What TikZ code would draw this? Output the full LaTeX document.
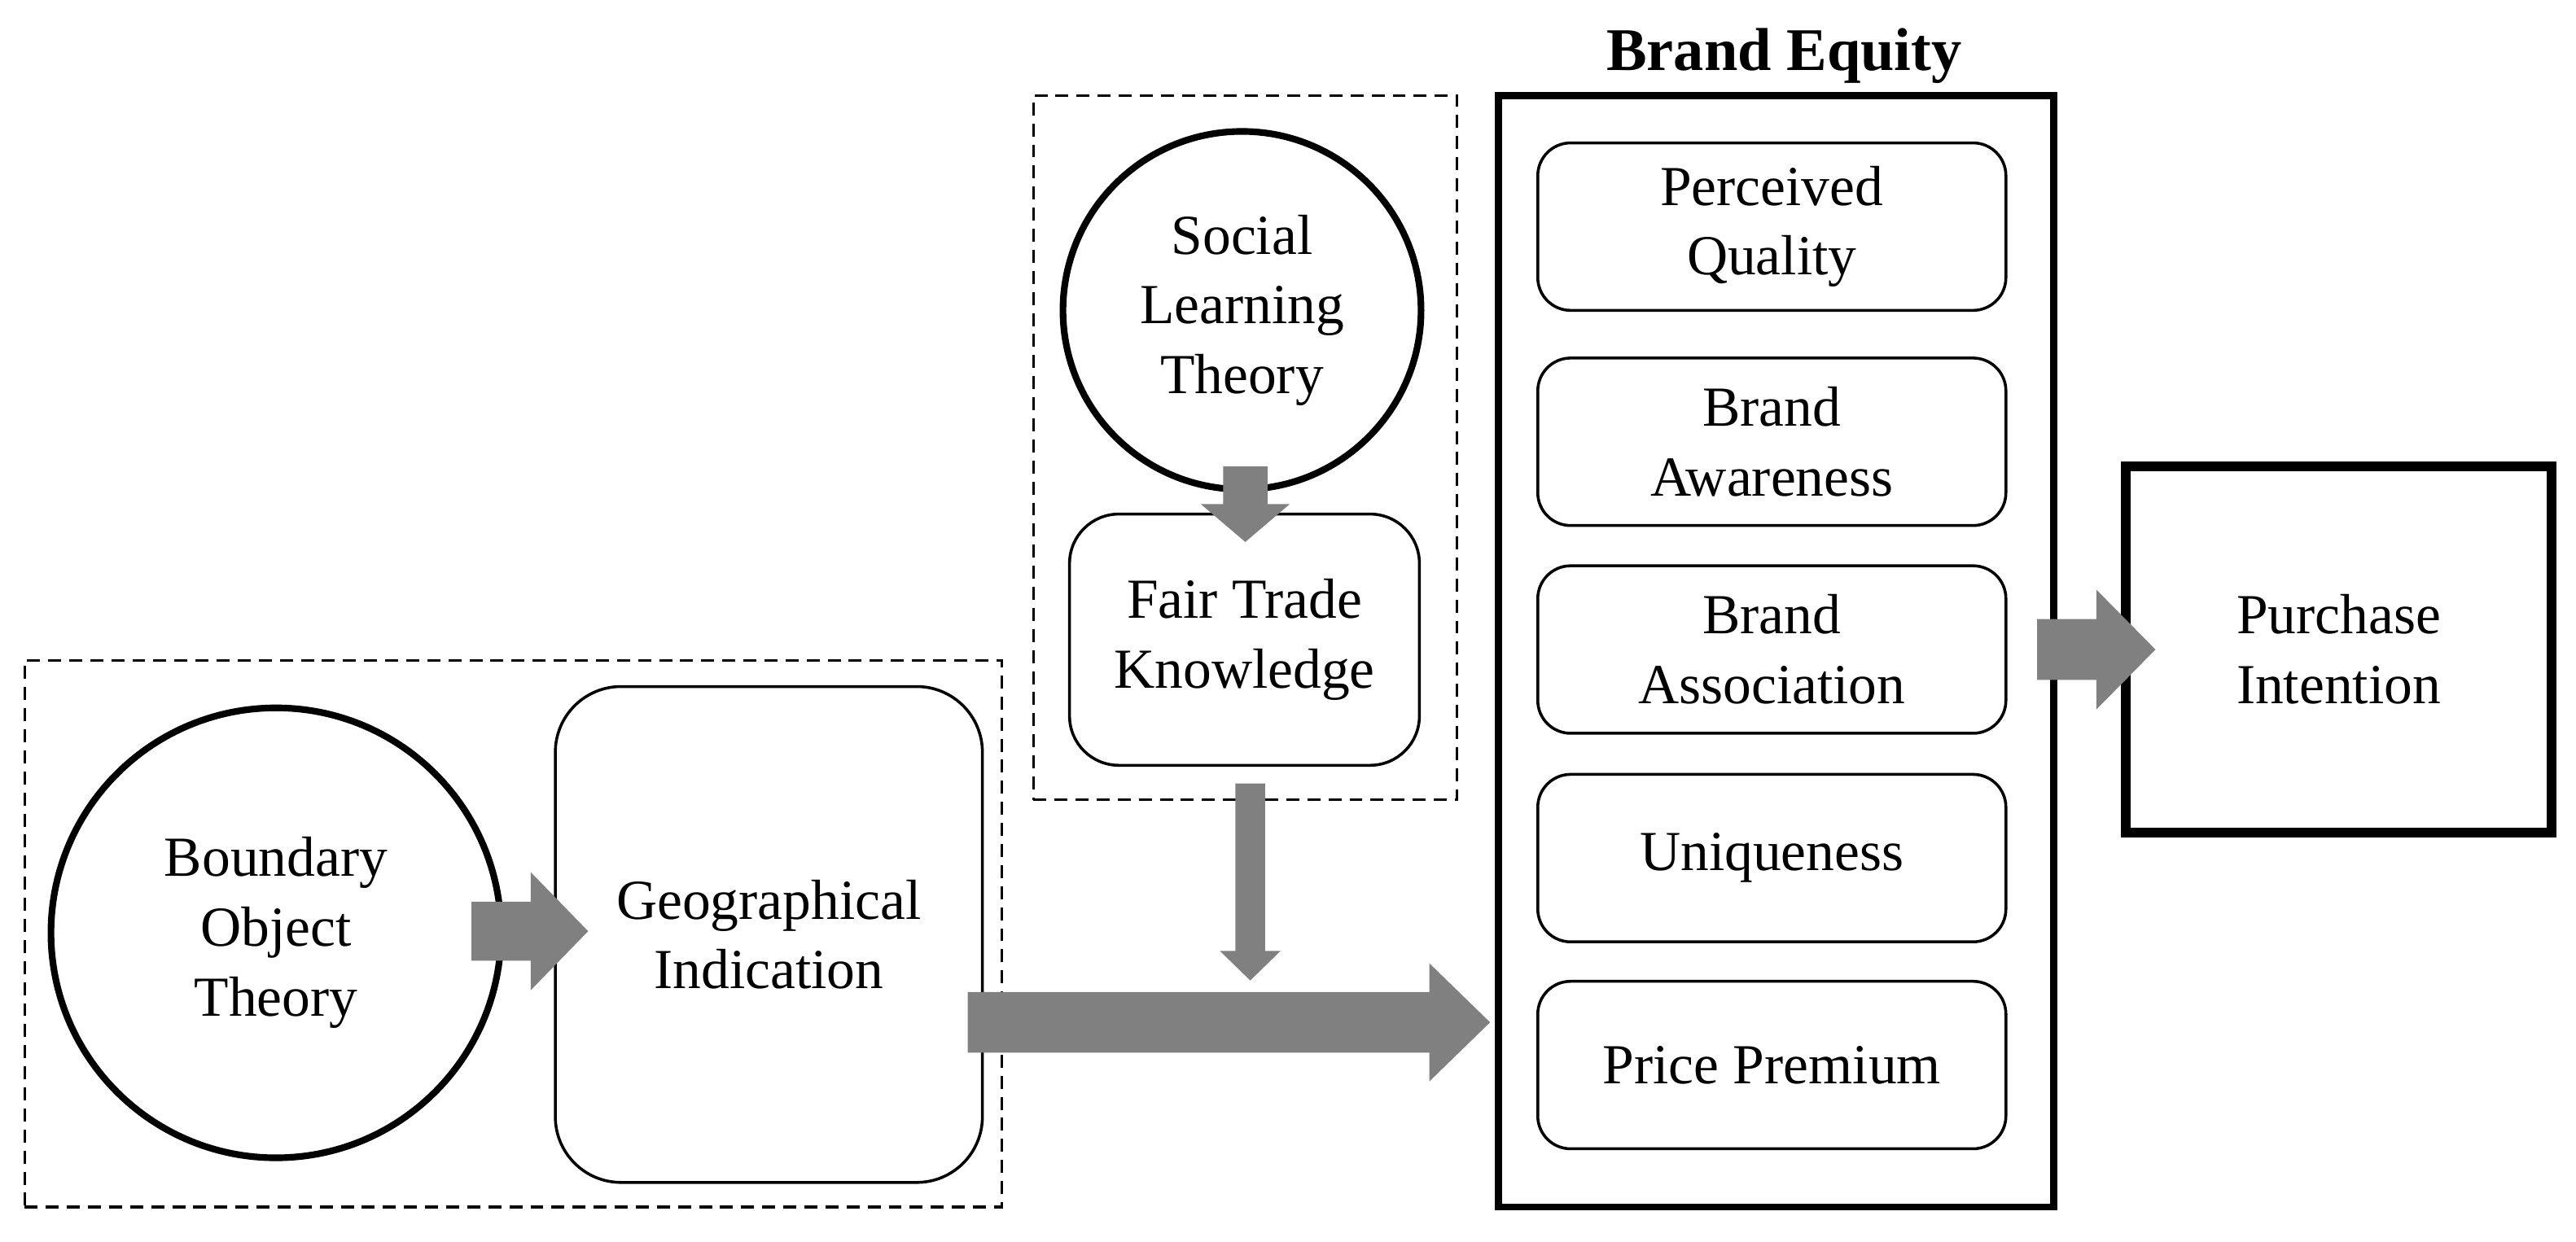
\documentclass[tikz,border=0pt]{standalone}
\usepackage{fontspec}
\setmainfont{Liberation Serif}
\usetikzlibrary{calc}
\definecolor{arrgray}{HTML}{808080}
% horizontal block arrow: #1 start, #2 tip, #3 shaft half, #4 head half, #5 head length
\newcommand\harrowblk[5]{%
  \fill[arrgray] ($(#1)+(0,-#3)$) -- ($(#2)+(-#5,-#3)$) -- ($(#2)+(-#5,-#4)$) -- (#2)
    -- ($(#2)+(-#5,#4)$) -- ($(#2)+(-#5,#3)$) -- ($(#1)+(0,#3)$) -- cycle;}
% vertical (downward) block arrow
\newcommand\varrowblk[5]{%
  \fill[arrgray] ($(#1)+(-#3,0)$) -- ($(#2)+(-#3,-#5)$) -- ($(#2)+(-#4,-#5)$) -- (#2)
    -- ($(#2)+(#4,-#5)$) -- ($(#2)+(#3,-#5)$) -- ($(#1)+(#3,0)$) -- cycle;}
\begin{document}
\begin{tikzpicture}[x=0.02cm,y=-0.02cm,
  lbl/.style={font=\fontsize{19.6}{24.2}\selectfont, align=center, inner sep=0pt, outer sep=0pt},
  theory/.style={lbl, circle, draw, line width=2.3pt},
  rbox/.style={lbl, rectangle, draw, line width=1pt},
  dashbox/.style={rectangle, draw, line width=0.9pt, dash pattern=on 4.5pt off 2.8pt, inner sep=0pt},
  bigbox/.style={lbl, rectangle, draw, line width=2.5pt},
  dimbox/.style={rbox, rounded corners=0.4cm, minimum width=5.7cm, minimum height=2.04cm}]
\useasboundingbox (0,0) rectangle (1568,756);
% group frames
\node[dashbox, minimum width=11.9cm, minimum height=6.66cm] (leftgroup) at (312.5,568.5) {};
\node[dashbox, minimum width=5.16cm, minimum height=8.58cm] (rightgroup) at (758,272.5) {};
% left group
\node[theory, minimum size=5.48cm] (bot) at (168,568) {Boundary\\Object\\Theory};
\node[rbox, rounded corners=0.8cm, minimum width=5.2cm, minimum height=6.04cm] (gi) at (468,569) {Geographical\\Indication};
% right group
\node[theory, minimum size=4.36cm] (slt) at (756,189) {Social\\Learning\\Theory};
\node[rbox, rounded corners=0.6cm, minimum width=4.26cm, minimum height=3.06cm] (ftk) at (757.5,389.5) {Fair Trade\\Knowledge};
% brand equity
\node[bigbox, minimum width=6.76cm, minimum height=13.54cm] (be) at (1081,396.5) {};
\node[anchor=base, inner sep=0pt, font=\fontsize{21}{25}\selectfont\bfseries] (betitle) at (1086,43) {Brand Equity};
\node[dimbox] (pq) at (1078.5,138) {Perceived\\Quality};
\node[dimbox] (ba) at (1078.5,269) {Brand\\Awareness};
\node[dimbox] (bas) at (1078.5,395.5) {Brand\\Association};
\node[dimbox] (uq) at (1078.5,522.5) {Uniqueness};
\node[dimbox] (pp) at (1078.5,648.5) {Price Premium};
% purchase intention
\node[lbl, rectangle, draw, line width=3.5pt, minimum width=5.18cm, minimum height=4.46cm] (pi) at (1423.5,395.5) {Purchase\\Intention};
% arrow anchor coordinates
\coordinate (a1s) at (287,567);   \coordinate (a1t) at (358,567);
\coordinate (a2s) at (589,622.5); \coordinate (a2t) at (907,622.5);
\coordinate (a3s) at (761,477);   \coordinate (a3t) at (761,597);
\coordinate (a4s) at (758,284);   \coordinate (a4t) at (758,330);
\coordinate (a5s) at (1240,395.5);\coordinate (a5t) at (1312,395.5);
% arrows
\harrowblk{a1s}{a1t}{18}{36}{35}
\harrowblk{a2s}{a2t}{18.5}{36}{37}
\varrowblk{a3s}{a3t}{9}{18.5}{18}
\varrowblk{a4s}{a4t}{13.5}{27}{23}
\harrowblk{a5s}{a5t}{18.5}{36.5}{36}
\end{tikzpicture}
\end{document}
